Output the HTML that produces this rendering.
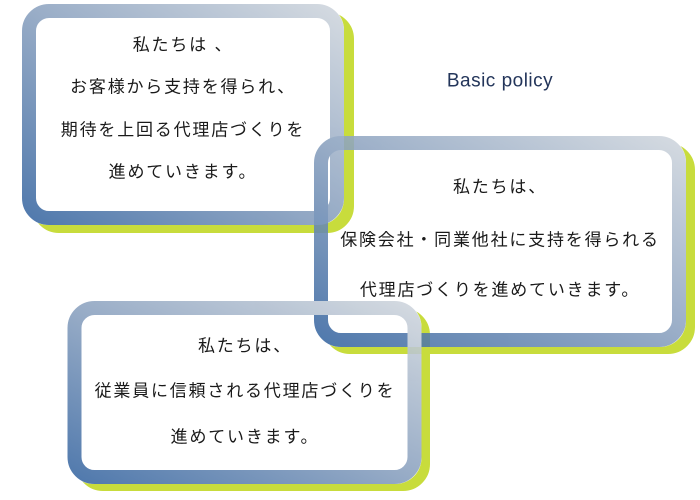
<!DOCTYPE html>
<html><head><meta charset="utf-8"><style>
html,body{margin:0;padding:0;background:#fff;width:700px;height:500px;overflow:hidden}
svg{position:absolute;left:0;top:0}
text{font-family:"Liberation Sans","Noto Sans CJK JP",sans-serif;font-size:17px;letter-spacing:1.8px;fill:#1a1a1a;text-anchor:middle;dominant-baseline:central}
</style></head><body>
<svg width="700" height="500" viewBox="0 0 700 500">
<defs>
<linearGradient id="g" x1="0" y1="1" x2="1" y2="0">
<stop offset="0" stop-color="#3a68a2"/>
<stop offset="0.5" stop-color="#8aa1bf"/>
<stop offset="1" stop-color="#cdd4dc"/>
</linearGradient>
<mask id="m1"><rect width="700" height="500" fill="#fff"/><rect x="22" y="4" width="322" height="221" rx="26" fill="#000"/></mask>
<mask id="m2"><rect width="700" height="500" fill="#fff"/><rect x="314" y="136" width="372" height="211" rx="26" fill="#000"/></mask>
<mask id="m3"><rect width="700" height="500" fill="#fff"/><rect x="67.5" y="301" width="354" height="183" rx="26" fill="#000"/></mask>
</defs>
<g fill="none" stroke="#c8dc3c" stroke-width="14">
<rect x="39" y="19" width="308" height="207" rx="20" mask="url(#m1)"/>
<rect x="330" y="150" width="358" height="197" rx="20" mask="url(#m2)"/>
<rect x="83" y="315" width="340" height="169" rx="20" mask="url(#m3)"/>
</g>
<g fill="none" stroke="url(#g)" stroke-width="14" opacity="0.88">
<rect x="29" y="11" width="308" height="207" rx="20"/>
<rect x="321" y="143" width="358" height="197" rx="20"/>
<rect x="74.5" y="308" width="340" height="169" rx="20"/>
</g>
<text x="183" y="45">私たちは 、</text>
<text x="183" y="87">お客様から支持を得られ、</text>
<text x="183" y="130">期待を上回る代理店づくりを</text>
<text x="183" y="172">進めていきます。</text>
<text x="500" y="81" style="font-size:19px;letter-spacing:0.5px;fill:#23355a">Basic policy</text>
<text x="500" y="187">私たちは、</text>
<text x="500" y="240">保険会社・同業他社に支持を得られる</text>
<text x="500" y="290">代理店づくりを進めていきます。</text>
<text x="245" y="346">私たちは、</text>
<text x="245" y="391">従業員に信頼される代理店づくりを</text>
<text x="245" y="437">進めていきます。</text>
</svg>
</body></html>
